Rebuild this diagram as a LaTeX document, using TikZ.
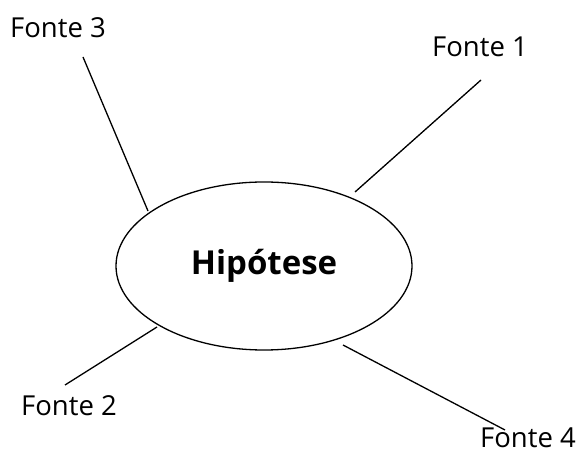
\documentclass[tikz,border=0pt]{standalone}
\usepackage{fontspec}
\setmainfont{Open Sans}
\usetikzlibrary{shapes.geometric}
\begin{document}
\begin{tikzpicture}[x=1pt,y=-1pt,
  label/.style={font=\fontsize{27.5}{32}\selectfont, inner sep=0pt},
  spoke/.style={draw=black, line width=1.3pt}]
\useasboundingbox (0,0) rectangle (581,454);
% central ellipse
\node[ellipse, draw, line width=1.3pt, minimum width=296pt, minimum height=168pt,
      font=\bfseries\fontsize{33}{38}\selectfont] (hyp) at (264,266) {Hipótese};
% labels
\node[label] (f3) at (58,28) {Fonte 3};
\node[label] (f1) at (480,47) {Fonte 1};
\node[label] (f2) at (69,406) {Fonte 2};
\node[label] (f4) at (528,438) {Fonte 4};
% spoke end points
\coordinate (a3) at (83,57);   \coordinate (b3) at (148,211);
\coordinate (a1) at (481,80);  \coordinate (b1) at (355,192);
\coordinate (a2) at (65,385);  \coordinate (b2) at (157,327);
\coordinate (a4) at (505,430); \coordinate (b4) at (343,345);
\draw[spoke] (a3) -- (b3);
\draw[spoke] (a1) -- (b1);
\draw[spoke] (a2) -- (b2);
\draw[spoke] (a4) -- (b4);
\end{tikzpicture}
\end{document}
